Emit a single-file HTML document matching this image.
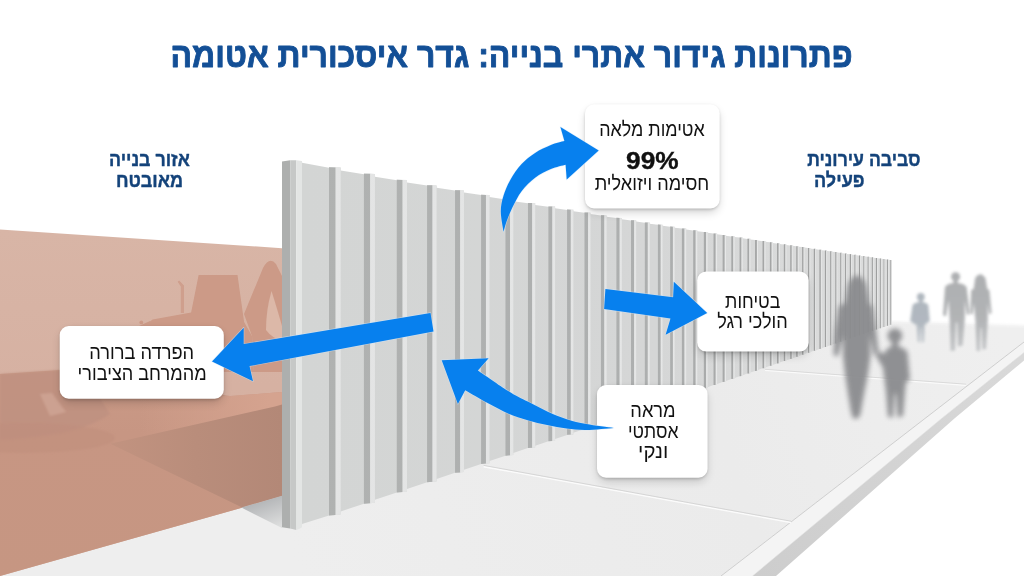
<!DOCTYPE html>
<html lang="he">
<head>
<meta charset="utf-8">
<title>פתרונות גידור אתרי בנייה: גדר איסכורית אטומה</title>
<style>
html,body{margin:0;padding:0;background:#fff;overflow:hidden}
svg{display:block;position:absolute;left:0;top:0;will-change:transform}
text{font-family:"Liberation Sans","DejaVu Sans",sans-serif;direction:rtl;unicode-bidi:plaintext}
.t{fill:#134f96;font-weight:700;stroke:#134f96;stroke-width:.9;stroke-linejoin:round}
.l{fill:#14437a;font-weight:700;stroke:#14437a;stroke-width:.4;stroke-linejoin:round}
.c{fill:#111}
</style>
</head>
<body>
<svg width="1024" height="576" viewBox="0 0 1024 576">
<defs>
  <linearGradient id="gPanel" x1="302" y1="0" x2="892" y2="0" gradientUnits="userSpaceOnUse">
    <stop offset="0" stop-color="#d3d5d4"/><stop offset="0.6" stop-color="#d5d6d6"/><stop offset="1" stop-color="#dcdddd"/>
  </linearGradient>
  <linearGradient id="gDark" x1="302" y1="0" x2="892" y2="0" gradientUnits="userSpaceOnUse">
    <stop offset="0" stop-color="#b0b2b1"/><stop offset="0.6" stop-color="#adafaf"/><stop offset="0.82" stop-color="#a3a4a4"/><stop offset="1" stop-color="#999a9a"/>
  </linearGradient>
  <linearGradient id="gLight" x1="302" y1="0" x2="892" y2="0" gradientUnits="userSpaceOnUse">
    <stop offset="0" stop-color="#e3e4e4"/><stop offset="0.6" stop-color="#e5e6e6"/><stop offset="1" stop-color="#ebecec"/>
  </linearGradient>
  <linearGradient id="gBrown" x1="0" y1="230" x2="0" y2="576" gradientUnits="userSpaceOnUse">
    <stop offset="0" stop-color="#d8b5a6"/><stop offset="0.45" stop-color="#d6b1a2"/><stop offset="1" stop-color="#d4ac9c"/>
  </linearGradient>
  <linearGradient id="gWalk" x1="300" y1="576" x2="1000" y2="330" gradientUnits="userSpaceOnUse">
    <stop offset="0" stop-color="#eeeeee"/><stop offset="0.6" stop-color="#ebebeb"/><stop offset="1" stop-color="#efefef"/>
  </linearGradient>
  <linearGradient id="gCurbFace" x1="760" y1="576" x2="1024" y2="360" gradientUnits="userSpaceOnUse">
    <stop offset="0" stop-color="#cdcdcd"/><stop offset="1" stop-color="#d9d9d9"/>
  </linearGradient>
  <linearGradient id="gShade" x1="262" y1="500" x2="272" y2="528" gradientUnits="userSpaceOnUse">
    <stop offset="0" stop-color="#b3b5b7"/><stop offset="1" stop-color="#dcdddd"/>
  </linearGradient>
  <linearGradient id="gLite" x1="140" y1="0" x2="270" y2="0" gradientUnits="userSpaceOnUse">
    <stop offset="0" stop-color="#d5a38f" stop-opacity="0"/><stop offset="1" stop-color="#d5a38f" stop-opacity="1"/>
  </linearGradient>
  <linearGradient id="gShadow" x1="110" y1="0" x2="282" y2="0" gradientUnits="userSpaceOnUse">
    <stop offset="0" stop-color="#c29380"/><stop offset="0.5" stop-color="#b98d7b"/><stop offset="1" stop-color="#b38877"/>
  </linearGradient>
  <linearGradient id="gFar" x1="0" y1="272" x2="0" y2="352" gradientUnits="userSpaceOnUse">
    <stop offset="0" stop-color="#a9abad"/><stop offset="0.55" stop-color="#adafb1"/><stop offset="1" stop-color="#c3c5c7"/>
  </linearGradient>
  <linearGradient id="gFarC" x1="0" y1="292" x2="0" y2="343" gradientUnits="userSpaceOnUse">
    <stop offset="0" stop-color="#aab2ba"/><stop offset="0.6" stop-color="#adb5bd"/><stop offset="1" stop-color="#c6cbd0"/>
  </linearGradient>
  <linearGradient id="gGround" x1="0" y1="372" x2="0" y2="576" gradientUnits="userSpaceOnUse">
    <stop offset="0" stop-color="#ca9a87"/><stop offset="0.3" stop-color="#c79683"/><stop offset="1" stop-color="#c69682"/>
  </linearGradient>
  <filter id="fBox" x="-20%" y="-20%" width="140%" height="150%">
    <feGaussianBlur stdDeviation="1.6"/>
  </filter>
  <filter id="fBoxW" x="-30%" y="-30%" width="160%" height="170%">
    <feGaussianBlur stdDeviation="5"/>
  </filter>
  <filter id="b1" x="-30%" y="-30%" width="160%" height="160%"><feGaussianBlur stdDeviation="1.1"/></filter>
  <filter id="b15" x="-30%" y="-30%" width="160%" height="160%"><feGaussianBlur stdDeviation="1.5"/></filter>
  <filter id="b2" x="-30%" y="-30%" width="160%" height="160%"><feGaussianBlur stdDeviation="2.2"/></filter>
  <filter id="b3" x="-30%" y="-30%" width="160%" height="160%"><feGaussianBlur stdDeviation="2.8"/></filter>
  <filter id="b05" x="-10%" y="-10%" width="120%" height="120%"><feGaussianBlur stdDeviation="0.6"/></filter>
</defs>

<!-- background -->
<rect width="1024" height="576" fill="#ffffff"/>

<!-- road / far ground -->
<!-- sidewalk -->
<polygon points="0,470 296,470 892,321.5 1024,325.8 1024,342 721,576 0,576" fill="url(#gWalk)"/>
<path d="M886,321.4 L1030,326" stroke="#f6f6f6" stroke-width="2.4" fill="none" filter="url(#b1)"/>
<!-- curb -->
<polygon points="1024,342 1024,352.5 939.7,420 752.5,576 721,576 740,561.4 923,420" fill="#f4f4f4"/>
<polygon points="1024,352.5 1024,360.5 955,418 776,576 752.5,576 939.7,420" fill="url(#gCurbFace)"/>
<path d="M1024,342 L923,420 L740,561.4 L721,576" fill="none" stroke="#c9c9c9" stroke-width="0.9"/>
<path d="M1024,352.5 L939.7,420 L752.5,576" fill="none" stroke="#e0e0e0" stroke-width="0.6"/>
<!-- slab joints -->
<path d="M483.6,466.6 L791,522.4" fill="none" stroke="#fbfbfb" stroke-width="1.6"/>
<path d="M483.6,465.4 L791,521.2" fill="none" stroke="#d2d2d2" stroke-width="0.9"/>
<path d="M765,370.3 L966,385.2" fill="none" stroke="#fafafa" stroke-width="1.5"/>
<path d="M765,369.3 L966,384.2" fill="none" stroke="#d4d4d4" stroke-width="0.8"/>

<!-- construction zone -->
<g id="zone">
  <polygon points="0,229.6 282,248.2 282,496 241,508 0,576" fill="url(#gBrown)"/>
  <!-- ground -->
  <polygon points="0,374 60,370 230,396 282,392 282,496 241,508 0,576" fill="url(#gGround)"/>
  <!-- excavator silhouette -->
  <g fill="#cc9a87" filter="url(#b05)">
    <polygon points="198.6,275 237.5,275 244.1,322 252,336 254,372 150,372 148,323 152.6,319.6 191.1,312.6"/>
    <path d="M180.8,313 L180.8,286.5 L177.6,281.8 L179.2,280.4 L184,285.6 L184,313 Z" fill="#cf9f8d"/>
    <circle cx="141.3" cy="322.4" r="1.9"/>
    <path d="M139,326 L150,321 L150,328 L139,328 Z"/>
    <path d="M244,314 L263,268 Q269.5,256 276,264 L282,276 L282,372 L254,372 L252,336 Z"/>
  </g>
  <g fill="#dcb8a8" filter="url(#b05)">
    <path d="M271.5,291 Q276,305 282,326 L282,341 Q272,338 266,330 Q266,310 271.5,291 Z"/>
  </g>
  <!-- lower-left machine silhouette -->
  <g filter="url(#b1)">
    <path d="M0,374 L60,370 L60,398 L100,398 L110,414 Q80,436 0,440 Z" fill="#bd9080" opacity="0.75"/>
    <ellipse cx="25" cy="438" rx="90" ry="15" fill="#c08e7c" opacity="0.55"/>
    <path d="M40,394 L52,393 L66,412 L50,416 Z" fill="#cfa595" opacity="0.8"/>
  </g>
  <polygon points="140,399 230,396 282,392 282,407.5 140,439" fill="url(#gLite)"/>
  <!-- fence shadow on site ground -->
  <polygon points="110.4,443.8 275,406.4 282,404.6 282,496 241.7,507.3" fill="url(#gShadow)"/>
</g>

<!-- fence shadow on pavement -->
<polygon points="241.4,507.6 282,495.7 282,528" fill="url(#gShade)"/>

<!-- fence -->
<g id="fence">
<polygon points="302.0,162.8 329.0,167.7 329.0,167.2 340.7,167.6 340.7,170.5 363.9,174.2 363.9,173.6 374.9,174.0 374.9,176.8 396.8,180.2 396.8,179.7 407.0,180.0 407.0,182.6 427.1,185.6 427.1,185.2 436.6,185.5 436.6,187.8 455.0,190.6 455.0,190.1 464.0,190.5 464.0,192.6 481.1,195.1 481.1,194.7 489.5,195.0 489.5,197.1 505.5,199.4 505.5,199.0 513.3,199.3 513.3,201.2 527.9,203.2 527.9,202.9 535.2,203.2 535.2,204.9 548.4,206.7 548.4,206.4 555.1,206.6 555.1,208.2 567.1,209.9 567.1,209.6 573.4,209.8 573.4,211.2 584.5,212.8 584.5,212.5 590.5,212.7 590.5,214.1 600.9,215.5 600.9,215.2 606.6,215.4 606.6,216.7 616.4,218.0 616.4,217.8 621.8,218.0 621.8,219.2 631.0,220.4 631.0,220.2 636.2,220.4 636.2,221.5 644.8,222.7 644.8,222.5 649.7,222.6 649.7,223.7 657.9,224.8 657.9,224.6 662.5,224.7 662.5,225.8 670.2,226.7 670.2,226.6 674.6,226.7 674.6,227.7 681.9,228.6 681.9,228.4 686.2,228.6 686.2,229.5 693.2,230.4 693.2,230.2 697.3,230.4 697.3,231.2 703.8,232.1 703.8,231.9 707.6,232.0 707.6,232.8 713.5,233.6 713.5,233.5 717.1,233.6 717.1,234.3 722.6,235.0 722.6,234.9 726.0,235.0 726.0,235.7 731.3,236.4 731.3,236.2 734.6,236.3 734.6,237.0 739.6,237.6 739.6,237.5 742.7,237.6 742.7,238.3 747.4,238.9 747.4,238.7 750.5,238.8 750.5,239.5 755.0,240.0 755.0,239.9 758.0,240.0 758.0,240.6 762.5,241.2 762.5,241.0 765.5,241.1 765.5,241.8 769.9,242.3 769.9,242.2 772.7,242.3 772.7,242.9 777.0,243.4 777.0,243.3 779.7,243.3 779.7,243.9 783.8,244.4 783.8,244.3 786.4,244.4 786.4,244.9 790.2,245.4 790.2,245.3 792.7,245.3 792.7,245.8 796.2,246.3 796.2,246.2 798.6,246.2 798.6,246.7 802.1,247.1 802.1,247.1 804.5,247.1 804.5,247.6 808.0,248.0 808.0,247.9 810.3,248.0 810.3,248.5 813.8,248.9 813.8,248.8 816.1,248.9 816.1,249.3 819.4,249.7 819.4,249.6 821.7,249.7 821.7,250.2 824.9,250.5 824.9,250.4 827.1,250.5 827.1,251.0 830.2,251.3 830.2,251.2 832.3,251.3 832.3,251.7 835.3,252.1 835.3,252.0 837.3,252.0 837.3,252.5 840.2,252.8 840.2,252.7 842.2,252.8 842.2,253.2 845.1,253.5 845.1,253.4 847.0,253.5 847.0,253.9 849.8,254.2 849.8,254.1 851.7,254.2 851.7,254.6 854.4,254.9 854.4,254.8 856.3,254.8 856.3,255.2 859.0,255.5 859.0,255.4 860.8,255.5 860.8,255.9 863.4,256.2 863.4,256.1 865.1,256.1 865.1,256.5 867.6,256.8 867.6,256.7 869.4,256.8 869.4,257.1 871.8,257.4 871.8,257.3 873.5,257.4 873.5,257.7 875.9,258.0 875.9,257.9 877.5,257.9 877.5,258.3 879.9,258.5 879.9,258.5 881.4,258.5 881.4,258.8 883.6,259.1 883.6,259.0 885.1,259.1 885.1,259.3 887.1,259.6 887.1,259.5 888.5,259.6 888.5,259.8 890.4,260.0 890.4,260.0 891.7,260.0 891.7,324.6 890.4,324.7 888.5,325.4 888.5,325.7 887.1,325.8 885.1,326.6 885.1,326.9 883.6,327.0 881.4,327.8 881.4,328.1 879.9,328.3 877.5,329.1 877.5,329.5 875.9,329.6 873.5,330.5 873.5,330.9 871.8,331.0 869.4,331.9 869.4,332.3 867.6,332.4 865.1,333.4 865.1,333.8 863.4,333.9 860.8,334.9 860.8,335.3 859.0,335.4 856.3,336.4 856.3,336.8 854.4,336.9 851.7,338.0 851.7,338.4 849.8,338.5 847.0,339.6 847.0,340.0 845.1,340.1 842.2,341.2 842.2,341.7 840.2,341.8 837.3,342.9 837.3,343.4 835.3,343.5 832.3,344.6 832.3,345.1 830.2,345.2 827.1,346.4 827.1,346.9 824.9,347.0 821.7,348.3 821.7,348.8 819.4,348.9 816.1,350.2 816.1,350.7 813.8,350.8 810.3,352.1 810.3,352.7 808.0,352.8 804.5,354.1 804.5,354.7 802.1,354.8 798.6,356.2 798.6,356.7 796.2,356.9 792.7,358.2 792.7,358.7 790.2,358.9 786.4,360.3 786.4,360.9 783.8,361.1 779.7,362.6 779.7,363.2 777.0,363.4 772.7,365.0 772.7,365.6 769.9,365.8 765.5,367.5 765.5,368.1 762.5,368.3 758.0,370.0 758.0,370.7 755.0,370.9 750.5,372.6 750.5,373.3 747.4,373.5 742.7,375.3 742.7,376.0 739.6,376.2 734.6,378.0 734.6,378.8 731.3,379.0 726.0,380.9 726.0,381.7 722.6,382.0 717.1,384.0 717.1,384.8 713.5,385.1 707.6,387.2 707.6,388.1 703.8,388.4 697.3,390.7 697.3,391.6 693.2,391.9 686.2,394.4 686.2,395.5 681.9,395.8 674.6,398.4 674.6,399.5 670.2,399.8 662.5,402.5 662.5,403.6 657.9,404.0 649.7,406.8 649.7,408.0 644.8,408.4 636.2,411.4 636.2,412.7 631.0,413.1 621.8,416.3 621.8,417.7 616.4,418.1 606.6,421.5 606.6,422.9 600.9,423.3 590.5,427.0 590.5,428.5 584.5,428.9 573.4,432.8 573.4,434.4 567.1,434.9 555.1,439.0 555.1,440.7 548.4,441.2 535.2,445.7 535.2,447.5 527.9,448.1 513.3,453.0 513.3,455.1 505.5,455.7 489.5,461.0 489.5,463.3 481.1,464.0 464.0,469.7 464.0,472.1 455.0,472.8 436.6,479.0 436.6,481.5 427.1,482.3 407.0,489.0 407.0,491.7 396.8,492.6 374.9,499.8 374.9,502.8 363.9,503.7 340.7,511.4 340.7,514.6 329.0,515.6 302.0,524.0" fill="url(#gPanel)"/>
<path d="M329.00,167.16 L335.63,167.41 L335.63,515.01 L329.00,515.56 Z M363.90,173.64 L370.17,173.87 L370.17,503.18 L363.90,503.70 Z M396.76,179.66 L402.60,179.88 L402.60,492.09 L396.76,492.57 Z M427.07,185.15 L432.53,185.35 L432.53,481.86 L427.07,482.30 Z M455.04,190.15 L460.19,190.33 L460.19,472.39 L455.04,472.81 Z M481.08,194.74 L485.97,194.92 L485.97,463.57 L481.08,463.96 Z M505.46,199.00 L510.05,199.17 L510.05,455.33 L505.46,455.70 Z M527.95,202.90 L532.22,203.05 L532.22,447.76 L527.95,448.10 Z M548.40,206.41 L552.38,206.55 L552.38,440.88 L548.40,441.19 Z M567.06,209.57 L570.83,209.70 L570.83,434.56 L567.06,434.85 Z M584.49,212.50 L588.09,212.62 L588.09,428.65 L584.49,428.92 Z M600.92,215.24 L604.37,215.36 L604.37,423.07 L600.92,423.33 Z M616.41,217.80 L619.70,217.91 L619.70,417.82 L616.41,418.06 Z M631.01,220.20 L634.16,220.31 L634.16,412.86 L631.01,413.10 Z M644.82,222.45 L647.83,222.55 L647.83,408.18 L644.82,408.40 Z M657.89,224.57 L660.75,224.67 L660.75,403.75 L657.89,403.96 Z M670.17,226.55 L672.93,226.64 L672.93,399.58 L670.17,399.78 Z M681.87,228.42 L684.55,228.51 L684.55,395.58 L681.87,395.78 Z M693.19,230.22 L695.73,230.31 L695.73,391.75 L693.19,391.94 Z M703.82,231.92 L706.18,232.00 L706.18,388.18 L703.82,388.35 Z M713.53,233.45 L715.76,233.52 L715.76,384.91 L713.53,385.06 Z M722.62,234.88 L724.77,234.95 L724.77,381.82 L722.62,381.97 Z M731.31,236.23 L733.37,236.30 L733.37,378.87 L731.31,379.01 Z M739.57,237.52 L741.54,237.58 L741.54,376.07 L739.57,376.20 Z M747.43,238.73 L749.35,238.79 L749.35,373.38 L747.43,373.52 Z M755.04,239.90 L756.93,239.96 L756.93,370.77 L755.04,370.90 Z M762.53,241.05 L764.39,241.11 L764.39,368.21 L762.53,368.34 Z M769.88,242.17 L771.69,242.23 L771.69,365.70 L769.88,365.83 Z M776.99,243.25 L778.74,243.31 L778.74,363.28 L776.99,363.40 Z M783.82,244.29 L785.47,244.35 L785.47,360.97 L783.82,361.09 Z M790.24,245.27 L791.80,245.32 L791.80,358.81 L790.24,358.92 Z M796.25,246.17 L797.77,246.22 L797.77,356.76 L796.25,356.86 Z M802.11,247.05 L803.64,247.10 L803.64,354.73 L802.11,354.84 Z M807.98,247.93 L809.49,247.97 L809.49,352.72 L807.98,352.82 Z M813.78,248.79 L815.25,248.84 L815.25,350.74 L813.78,350.84 Z M819.42,249.63 L820.86,249.68 L820.86,348.81 L819.42,348.91 Z M824.90,250.44 L826.29,250.49 L826.29,346.95 L824.90,347.04 Z M830.19,251.23 L831.54,251.27 L831.54,345.14 L830.19,345.23 Z M835.29,251.98 L836.60,252.02 L836.60,343.40 L835.29,343.49 Z M840.24,252.71 L841.52,252.75 L841.52,341.71 L840.24,341.80 Z M845.06,253.42 L846.32,253.46 L846.32,340.06 L845.06,340.14 Z M849.80,254.11 L851.03,254.15 L851.03,338.44 L849.80,338.52 Z M854.43,254.79 L855.64,254.82 L855.64,336.86 L854.43,336.94 Z M858.95,255.44 L860.13,255.48 L860.13,335.31 L858.95,335.39 Z M863.37,256.09 L864.51,256.12 L864.51,333.81 L863.37,333.88 Z M867.65,256.71 L868.76,256.74 L868.76,332.34 L867.65,332.42 Z M871.81,257.31 L872.91,257.34 L872.91,330.92 L871.81,330.99 Z M875.90,257.90 L876.97,257.93 L876.97,329.52 L875.90,329.60 Z M879.86,258.47 L880.88,258.50 L880.88,328.19 L879.86,328.25 Z M883.61,259.01 L884.55,259.04 L884.55,326.93 L883.61,326.99 Z M887.10,259.52 L888.00,259.55 L888.00,325.75 L887.10,325.81 Z M890.40,259.99 L891.26,260.02 L891.26,324.63 L890.40,324.69 Z" fill="url(#gDark)"/>
<path d="M335.63,167.41 L340.70,167.59 L340.70,514.59 L335.63,515.01 Z M370.17,173.87 L374.93,174.05 L374.93,502.78 L370.17,503.18 Z M402.60,179.88 L406.99,180.04 L406.99,491.73 L402.60,492.09 Z M432.53,185.35 L436.58,185.50 L436.58,481.53 L432.53,481.86 Z M460.19,190.33 L463.97,190.47 L463.97,472.09 L460.19,472.39 Z M485.97,194.92 L489.50,195.04 L489.50,463.28 L485.97,463.57 Z M510.05,199.17 L513.31,199.28 L513.31,455.07 L510.05,455.33 Z M532.22,203.05 L535.18,203.16 L535.18,447.53 L532.22,447.76 Z M552.38,206.55 L555.08,206.64 L555.08,440.67 L552.38,440.88 Z M570.83,209.70 L573.36,209.79 L573.36,434.37 L570.83,434.56 Z M588.09,212.62 L590.48,212.71 L590.48,428.46 L588.09,428.65 Z M604.37,215.36 L606.61,215.43 L606.61,422.90 L604.37,423.07 Z M619.70,217.91 L621.82,217.99 L621.82,417.66 L619.70,417.82 Z M634.16,220.31 L636.16,220.37 L636.16,412.71 L634.16,412.86 Z M647.83,222.55 L649.73,222.62 L649.73,408.04 L647.83,408.18 Z M660.75,224.67 L662.53,224.73 L662.53,403.62 L660.75,403.75 Z M672.93,226.64 L674.62,226.70 L674.62,399.45 L672.93,399.58 Z M684.55,228.51 L686.19,228.56 L686.19,395.46 L684.55,395.58 Z M695.73,230.31 L697.28,230.36 L697.28,391.64 L695.73,391.75 Z M706.18,232.00 L707.59,232.04 L707.59,388.08 L706.18,388.18 Z M715.76,233.52 L717.08,233.57 L717.08,384.81 L715.76,384.91 Z M724.77,234.95 L726.03,234.99 L726.03,381.73 L724.77,381.82 Z M733.37,236.30 L734.56,236.34 L734.56,378.78 L733.37,378.87 Z M741.54,237.58 L742.68,237.62 L742.68,375.99 L741.54,376.07 Z M749.35,238.79 L750.45,238.83 L750.45,373.31 L749.35,373.38 Z M756.93,239.96 L758.02,240.00 L758.02,370.70 L756.93,370.77 Z M764.39,241.11 L765.46,241.14 L765.46,368.13 L764.39,368.21 Z M771.69,242.23 L772.72,242.26 L772.72,365.63 L771.69,365.70 Z M778.74,243.31 L779.73,243.34 L779.73,363.21 L778.74,363.28 Z M785.47,244.35 L786.40,244.38 L786.40,360.91 L785.47,360.97 Z M791.80,245.32 L792.67,245.35 L792.67,358.75 L791.80,358.81 Z M797.77,246.22 L798.62,246.25 L798.62,356.70 L797.77,356.76 Z M803.64,247.10 L804.49,247.12 L804.49,354.67 L803.64,354.73 Z M809.49,247.97 L810.33,248.00 L810.33,352.66 L809.49,352.72 Z M815.25,248.84 L816.07,248.86 L816.07,350.68 L815.25,350.74 Z M820.86,249.68 L821.65,249.70 L821.65,348.76 L820.86,348.81 Z M826.29,250.49 L827.06,250.51 L827.06,346.89 L826.29,346.95 Z M831.54,251.27 L832.28,251.29 L832.28,345.09 L831.54,345.14 Z M836.60,252.02 L837.32,252.04 L837.32,343.35 L836.60,343.40 Z M841.52,252.75 L842.22,252.77 L842.22,341.67 L841.52,341.71 Z M846.32,253.46 L847.01,253.48 L847.01,340.01 L846.32,340.06 Z M851.03,254.15 L851.71,254.17 L851.71,338.39 L851.03,338.44 Z M855.64,254.82 L856.29,254.84 L856.29,336.81 L855.64,336.86 Z M860.13,255.48 L860.77,255.50 L860.77,335.27 L860.13,335.31 Z M864.51,256.12 L865.13,256.14 L865.13,333.76 L864.51,333.81 Z M868.76,256.74 L869.37,256.76 L869.37,332.30 L868.76,332.34 Z M872.91,257.34 L873.50,257.36 L873.50,330.88 L872.91,330.92 Z M876.97,257.93 L877.54,257.95 L877.54,329.49 L876.97,329.52 Z M880.88,258.50 L881.42,258.52 L881.42,328.15 L880.88,328.19 Z M884.55,259.04 L885.06,259.06 L885.06,326.89 L884.55,326.93 Z M888.00,259.55 L888.48,259.56 L888.48,325.71 L888.00,325.75 Z M891.26,260.02 L891.71,260.03 L891.71,324.60 L891.26,324.63 Z" fill="url(#gLight)"/>
  <!-- end post -->
  <polygon points="282,161.5 290.2,160.3 290.2,528.4 282,527.3" fill="#adafae"/>
  <polygon points="290.2,160.3 296.3,160.3 296.3,530 290.2,528.4" fill="#c6c8c7"/>
  <polygon points="296.3,160.3 302,161 302,527.2 299,529 296.3,530" fill="#e3e5e4"/>
</g>

<!-- people -->
<g id="people">
  <!-- far child -->
  <g fill="url(#gFarC)" opacity="0.95" filter="url(#b15)">
    <circle cx="920.8" cy="296.9" r="3.9"/>
    <path d="M919.3,299 L922.3,299 L922.6,302 Q926.5,302.5 928.3,305 L929.8,321 L926.5,323.6 L924.6,325 L924.2,342 L921.5,342.5 L921.1,328 L920.6,328 L920,342.5 L917.6,342 L916.6,325 L913.5,323.6 L910.2,321 L912.6,305 Q914.5,302.5 919,302 Z"/>
  </g>
  <!-- man -->
  <g fill="url(#gFar)" opacity="0.95" filter="url(#b15)">
    <circle cx="955.6" cy="276.8" r="4.5"/>
    <path d="M953.8,279 L957.4,279 L957.8,283 Q964,283.5 966.6,287 L969.8,313 L967,315.5 L964.8,300 L964.8,319 L962.6,345.5 L958,346.5 L957.2,323 L956,323 L955,350.5 L950.6,351 L949.6,319 L948.6,300 L946,316.5 L943,315 L945,287 Q947.5,283.5 953.4,283 Z"/>
  </g>
  <!-- far woman -->
  <g fill="url(#gFar)" opacity="0.95" filter="url(#b15)">
    <ellipse cx="980.2" cy="279.6" rx="4.5" ry="5"/>
    <path d="M975.2,278 Q980.2,271 985.4,278 L987.6,291 L973.4,291 Z"/>
    <path d="M971.2,290 Q980.2,284.5 989.4,290 L991.6,313 L989.2,314.5 L987.6,303 L987.8,320 L986,349 L982.4,349.5 L981.6,328 L980.6,328 L980,351 L976.6,351 L975.4,320 L973.8,303 L972.6,314.5 L970,313.5 Z"/>
  </g>
  <!-- near woman -->
  <g fill="#8a8b8e" opacity="0.94" filter="url(#b3)">
    <ellipse cx="857" cy="285.5" rx="8" ry="9.5"/>
    <path d="M848,284 Q857,267 866,284 L869.5,305 L844.5,305 Z"/>
    <path d="M839,306 Q857,296 872.5,306 L876,330 L878.5,352 L874,355.5 L870,335 L870.5,356 L868,374 L864,394 L860.5,414 L858,418.5 L853,418.5 L851,412 L848,394 L845,374 L843,356 L843,335 L838,356.5 L833.5,355 L835,330 Z"/>
  </g>
  <!-- near child -->
  <g fill="#8a8b8e" opacity="0.94" filter="url(#b3)">
    <circle cx="894.9" cy="335.7" r="7.3"/>
    <path d="M892,341 L898,341 L898.5,346.5 Q904,347.5 907.5,352 L910,380 L906,382 L905,392 L903,416 L897.5,417.5 L896,394 L894.5,394 L893,417.5 L888,417 L886,392 L884.5,380 L883,368 L875.5,355 L877.5,350.5 L884,354 Q886,348 891.5,346.5 Z"/>
  </g>
</g>

<!-- callout boxes -->
<g id="boxes">
  <g filter="url(#fBoxW)" fill="#000" opacity="0.17">
    <rect x="586" y="109.5" width="132.7" height="103" rx="9"/>
    <rect x="698.2" y="276.5" width="109.5" height="79" rx="9"/>
    <rect x="598" y="390" width="108.6" height="91.5" rx="9"/>
    <rect x="60.7" y="331" width="162.1" height="71.5" rx="9"/>
  </g>
  <g filter="url(#fBox)" fill="#000" opacity="0.20">
    <rect x="585.5" y="105.8" width="133.7" height="103.7" rx="9"/>
    <rect x="697.7" y="272.9" width="110.5" height="79.7" rx="9"/>
    <rect x="597.5" y="386.5" width="109.6" height="92.2" rx="9"/>
    <rect x="60.2" y="327.5" width="163.1" height="72.2" rx="9"/>
  </g>
  <g fill="#ffffff">
    <rect x="585" y="104.3" width="134.7" height="104.2" rx="9"/>
    <rect x="697.2" y="271.4" width="111.5" height="80.2" rx="9"/>
    <rect x="597" y="385" width="110.6" height="92.7" rx="9"/>
    <rect x="59.7" y="326" width="164.1" height="72.7" rx="9"/>
  </g>
</g>

<!-- arrows -->
<g id="arrows" fill="#0780ee" stroke="#cfe6fb" stroke-opacity=".55" stroke-width="1.2" paint-order="stroke" stroke-linejoin="round">
  <path d="M503.5,231.8 C503.1,228.4 500.8,217.5 500.8,211.5 C500.8,205.5 501.9,201.0 503.5,195.7 C505.1,190.4 507.3,185.2 510.3,179.9 C513.3,174.6 517.5,168.6 521.6,164.1 C525.7,159.6 530.2,156.1 535.1,152.9 C540.0,149.7 546.0,147.0 550.9,145.0 C555.8,143.0 562.1,141.8 564.4,141.1 L560.4,126.9 L598.7,150.6 L566.7,179.5 L565.6,164.8 C563.1,165.5 556.0,166.9 550.9,169.1 C545.8,171.2 540.0,174.0 535.1,177.7 C530.2,181.4 525.4,186.3 521.6,191.2 C517.9,196.1 515.1,202.1 512.6,207.0 C510.2,211.9 508.4,216.4 506.9,220.5 C505.4,224.6 504.1,229.9 503.5,231.8 Z"/>
  <polygon points="605.4,288.9 673.1,297.3 673.8,281.7 707.2,313 665.6,334.8 670.5,318.4 604.1,309.1"/>
  <path d="M613.6,428.0 C609.0,427.4 594.1,425.6 586.3,424.1 C578.5,422.6 573.2,421.3 566.7,419.2 C560.2,417.1 553.7,414.3 547.2,411.4 C540.7,408.5 534.2,405.0 527.7,401.6 C521.2,398.2 516.4,396.1 508.1,390.9 C499.8,385.7 482.9,373.8 477.9,370.4 L488.6,358.3 L441.7,360.2 L457.9,404 L465.2,390.3 C469.1,392.5 481.5,399.8 488.6,403.6 C495.8,407.5 501.6,410.6 508.1,413.4 C514.6,416.2 521.2,418.2 527.7,420.2 C534.2,422.1 540.7,423.7 547.2,425.1 C553.7,426.5 560.2,427.8 566.7,428.6 C573.2,429.4 578.5,430.1 586.3,430.0 C594.1,429.9 609.0,428.3 613.6,428.0 Z"/>
  <polygon points="430.5,312.9 243.7,344.1 243.7,327.7 212,361.4 253,381.3 249.5,366.1 433.5,331.6"/>
</g>

<!-- text -->
<g id="text" text-anchor="middle">
  <text class="t" x="511.5" y="66.9" font-size="34.2" textLength="682" lengthAdjust="spacingAndGlyphs">פתרונות גידור אתרי בנייה: גדר איסכורית אטומה</text>

  <text class="l" x="149.4" y="166" font-size="19.5" textLength="80.8" lengthAdjust="spacingAndGlyphs">אזור בנייה</text>
  <text class="l" x="149.5" y="186.8" font-size="19.5" textLength="67.2" lengthAdjust="spacingAndGlyphs">מאובטח</text>

  <text class="l" x="863.8" y="166" font-size="19.5" textLength="113.3" lengthAdjust="spacingAndGlyphs">סביבה עירונית</text>
  <text class="l" x="839.3" y="186.7" font-size="19.5" textLength="50.6" lengthAdjust="spacingAndGlyphs">פעילה</text>

  <text class="c" x="652" y="136.4" font-size="20.5" textLength="105.6" lengthAdjust="spacingAndGlyphs">אטימות מלאה</text>
  <text class="c" x="652.4" y="168.8" font-size="24.4" font-weight="700" stroke="#111" stroke-width=".35" textLength="52.6" lengthAdjust="spacingAndGlyphs">99%</text>
  <text class="c" x="652" y="189.6" font-size="20.3" textLength="114.6" lengthAdjust="spacingAndGlyphs">חסימה ויזואלית</text>

  <text class="c" x="752.7" y="307.9" font-size="20.5" textLength="55.2" lengthAdjust="spacingAndGlyphs">בטיחות</text>
  <text class="c" x="752.5" y="328.4" font-size="20.5" textLength="70.6" lengthAdjust="spacingAndGlyphs">הולכי רגל</text>

  <text class="c" x="653" y="416.6" font-size="20.3" textLength="45.3" lengthAdjust="spacingAndGlyphs">מראה</text>
  <text class="c" x="653.2" y="437.9" font-size="20.3" textLength="50.4" lengthAdjust="spacingAndGlyphs">אסתטי</text>
  <text class="c" x="653.2" y="458.1" font-size="20.3" textLength="30.2" lengthAdjust="spacingAndGlyphs">ונקי</text>

  <text class="c" x="141.7" y="358.9" font-size="20.2" textLength="104.8" lengthAdjust="spacingAndGlyphs">הפרדה ברורה</text>
  <text class="c" x="142.1" y="379.6" font-size="20.2" textLength="129" lengthAdjust="spacingAndGlyphs">מהמרחב הציבורי</text>
</g>
</svg>
</body>
</html>
